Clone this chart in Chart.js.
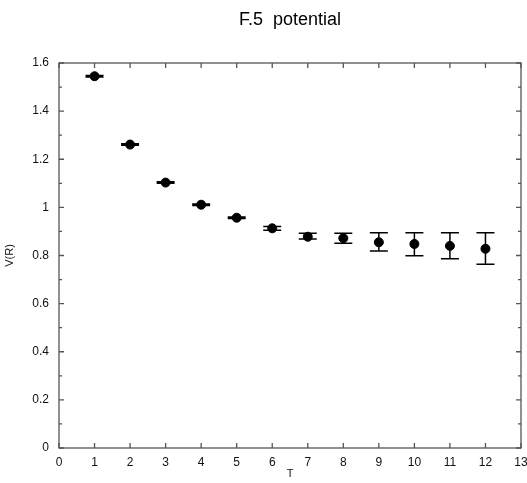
<!DOCTYPE html>
<html><head><meta charset="utf-8">
<script src="https://cdn.jsdelivr.net/npm/chart.js@4.4.1/dist/chart.umd.min.js"></script>
<style>html,body{margin:0;padding:0;background:#fff}canvas{display:block}</style>
</head><body>
<canvas id="c" width="527" height="483"></canvas>
<script>
const TITLE = 'F.5  potential';
const X_LABEL = 'T';
const Y_LABEL = 'V(R)';
const T = [1, 2, 3, 4, 5, 6, 7, 8, 9, 10, 11, 12];
const V = [1.545, 1.261, 1.103, 1.011, 0.957, 0.913, 0.878, 0.872, 0.855, 0.848, 0.840, 0.828];
const V_HI = [1.548, 1.264, 1.106, 1.014, 0.960, 0.921, 0.892, 0.892, 0.895, 0.895, 0.895, 0.895];
const V_LO = [1.542, 1.258, 1.100, 1.008, 0.954, 0.905, 0.869, 0.851, 0.819, 0.799, 0.787, 0.764];
const X_RANGE = [0, 13];
const Y_RANGE = [0, 1.6];

Chart.defaults.font.family = "'Liberation Sans', Arial, Helvetica, sans-serif";
Chart.defaults.color = '#111';

const errorBars = {
  id: 'errorBars',
  afterDatasetsDraw(chart) {
    const {ctx, scales: {x, y}} = chart;
    ctx.save();
    ctx.strokeStyle = '#000';
    ctx.lineWidth = 1.5;
    const cap = 9;
    T.forEach((t, i) => {
      const px = x.getPixelForValue(t);
      const yh = y.getPixelForValue(V_HI[i]);
      const yl = y.getPixelForValue(V_LO[i]);
      ctx.beginPath();
      ctx.moveTo(px, yh); ctx.lineTo(px, yl);
      ctx.moveTo(px - cap, yh); ctx.lineTo(px + cap, yh);
      ctx.moveTo(px - cap, yl); ctx.lineTo(px + cap, yl);
      ctx.stroke();
    });
    ctx.restore();
  }
};

const frame = {
  id: 'frame',
  afterDraw(chart) {
    const {ctx, chartArea: a, scales: {x, y}} = chart;
    ctx.save();
    ctx.strokeStyle = '#555';
    ctx.lineWidth = 1.3;
    ctx.strokeRect(a.left, a.top, a.right - a.left, a.bottom - a.top);
    ctx.beginPath();
    const major = 5, minor = 3;
    x.ticks.forEach(tk => {
      const px = x.getPixelForValue(tk.value);
      ctx.moveTo(px, a.bottom); ctx.lineTo(px, a.bottom - major);
      ctx.moveTo(px, a.top); ctx.lineTo(px, a.top + major);
    });
    const yt = y.ticks.map(tk => tk.value);
    yt.forEach((v, i) => {
      const py = y.getPixelForValue(v);
      ctx.moveTo(a.left, py); ctx.lineTo(a.left + major, py);
      ctx.moveTo(a.right, py); ctx.lineTo(a.right - major, py);
      if (i < yt.length - 1) {
        const pm = y.getPixelForValue((v + yt[i + 1]) / 2);
        ctx.moveTo(a.left, pm); ctx.lineTo(a.left + minor, pm);
        ctx.moveTo(a.right, pm); ctx.lineTo(a.right - minor, pm);
      }
    });
    ctx.stroke();
    ctx.restore();
  }
};

new Chart(document.getElementById('c'), {
  type: 'scatter',
  data: {
    datasets: [{
      data: T.map((t, i) => ({x: t, y: V[i]})),
      backgroundColor: '#000',
      borderColor: '#000',
      pointRadius: 4.5,
      pointHoverRadius: 4.5,
      showLine: false
    }]
  },
  options: {
    responsive: false,
    animation: false,
    events: [],
    layout: {padding: {top: 0, right: 6, bottom: 0, left: 0}},
    plugins: {
      legend: {display: false},
      tooltip: {enabled: false},
      title: {
        display: true,
        text: TITLE,
        fullSize: false,
        color: '#000',
        font: {size: 18, weight: 'normal'},
        padding: {top: 9, bottom: 32.4}
      }
    },
    scales: {
      x: {
        type: 'linear',
        min: X_RANGE[0], max: X_RANGE[1],
        grid: {display: false, drawTicks: false},
        border: {display: false},
        ticks: {stepSize: 1, padding: 7, font: {size: 12}, color: '#111', maxRotation: 0, autoSkip: false},
        title: {display: true, text: X_LABEL, font: {size: 11}, color: '#111', padding: {top: 0, bottom: 2}},
        afterFit(s) { s.height = 35; s.paddingRight = 0; s.paddingLeft = 0; }
      },
      y: {
        type: 'linear',
        min: Y_RANGE[0], max: Y_RANGE[1],
        grid: {display: false, drawTicks: false},
        border: {display: false},
        ticks: {stepSize: 0.2, padding: 10, font: {size: 12}, color: '#111',
          callback: v => String(parseFloat(Number(v).toFixed(4)))},
        title: {display: true, text: Y_LABEL, font: {size: 11}, color: '#111', padding: {top: 3, bottom: 0}},
        afterFit(s) { s.width = 59; }
      }
    }
  },
  plugins: [errorBars, frame]
});
</script>
</body></html>
